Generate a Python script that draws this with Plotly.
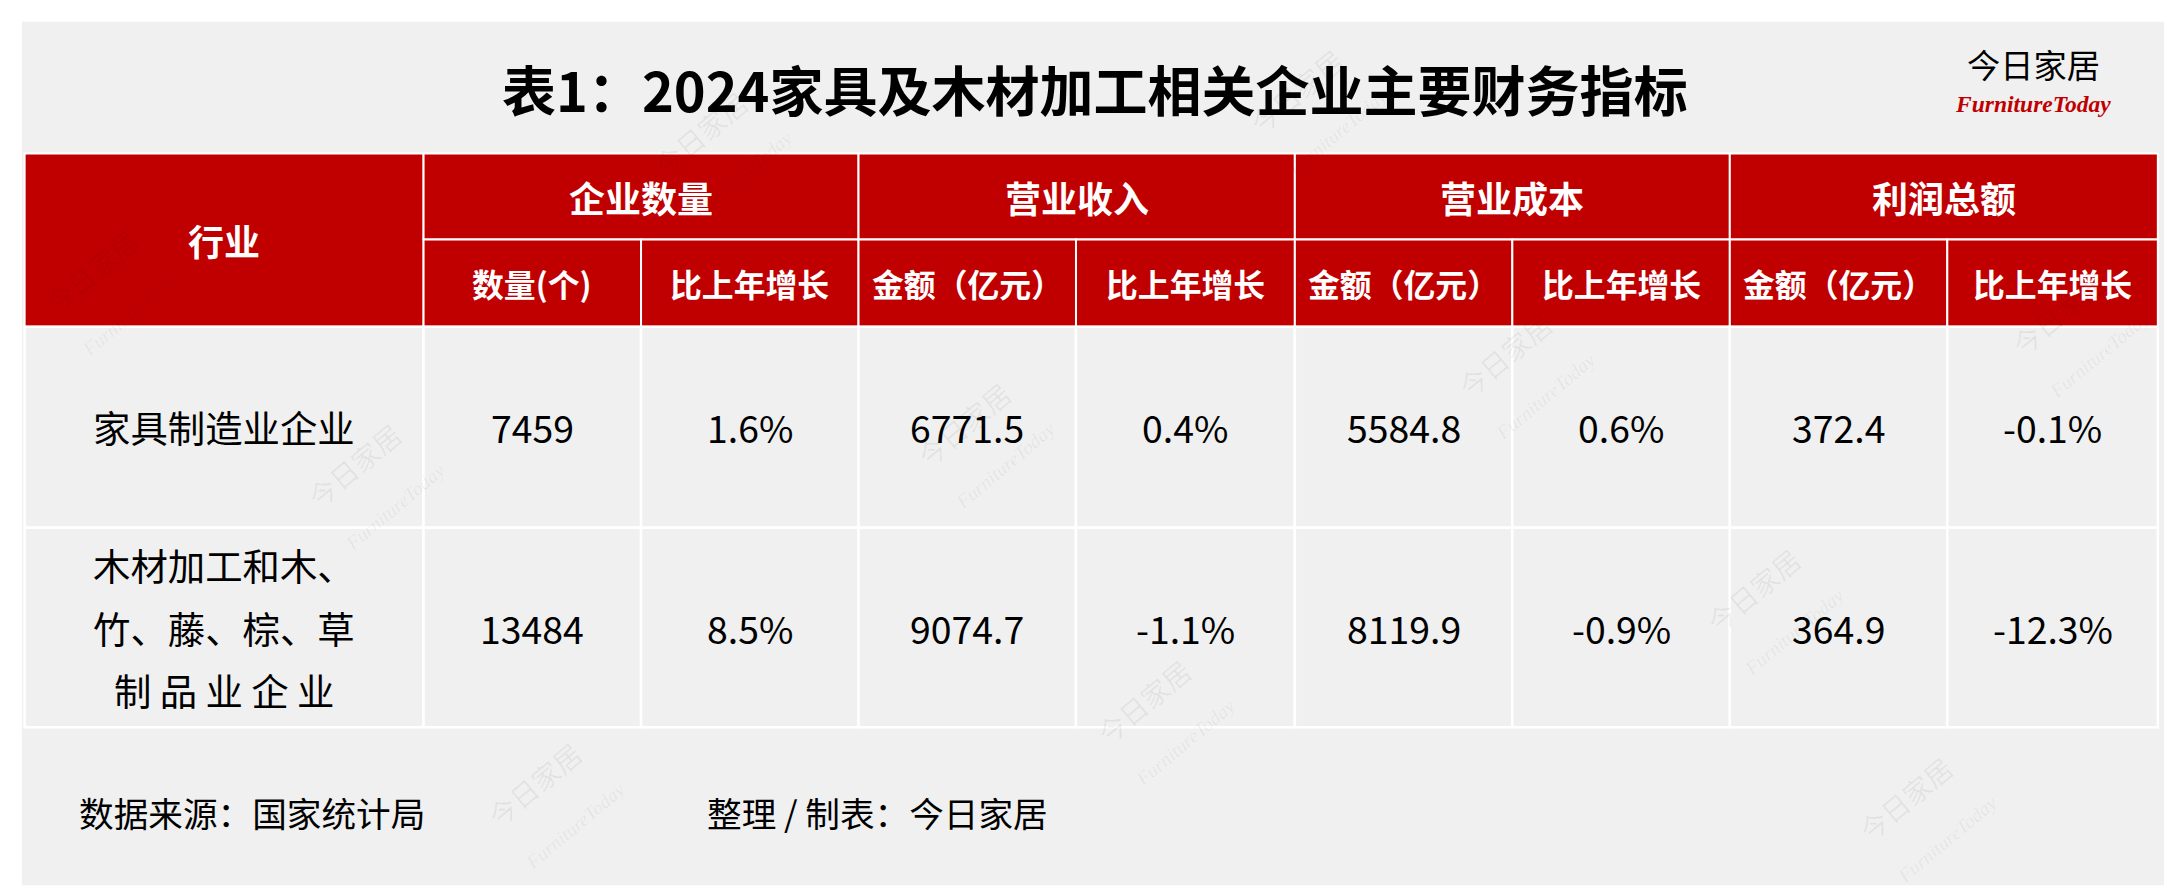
import plotly.graph_objects as go

W, H = 2172, 894
S = W / 1568  # design units -> pixels

title = "表1：2024家具及木材加工相关企业主要财务指标"
groups = ["企业数量", "营业收入", "营业成本", "利润总额"]
subheads = ["数量(个)", "比上年增长", "金额（亿元）", "比上年增长",
            "金额（亿元）", "比上年增长", "金额（亿元）", "比上年增长"]
industries = [["家具制造业企业"], ["木材加工和木、", "竹、藤、棕、草", "制 品 业 企 业"]]
values = [
    ["7459", "1.6%", "6771.5", "0.4%", "5584.8", "0.6%", "372.4", "-0.1%"],
    ["13484", "8.5%", "9074.7", "-1.1%", "8119.9", "-0.9%", "364.9", "-12.3%"],
]
source = "数据来源：国家统计局"
maker = "整理 / 制表：今日家居"

cols = [12, 300, 457, 614, 771, 929, 1086, 1243, 1400, 1552]
hdr = [105, 167, 230]
body = [230, 375, 519]

RED = "#c00000"
GRAY = "#f0f0f0"
FONT = "Noto Sans CJK SC"

fig = go.Figure()
shapes, ann = [], []

def rect(x0, y0, x1, y1, fill, lw=0, lc="white"):
    shapes.append(dict(type="rect", xref="x", yref="y", x0=x0, y0=y0, x1=x1, y1=y1,
                       fillcolor=fill, line=dict(width=lw, color=lc), layer="below"))

def text(x, y, t, size, color="black", bold=False, xanchor="center", angle=0, font=FONT):
    ann.append(dict(x=x, y=y, xref="x", yref="y", text=f"<b>{t}</b>" if bold else t,
                    showarrow=False, xanchor=xanchor, yanchor="middle", textangle=angle,
                    font=dict(size=size * S, color=color, family=font)))

rect(10, 10, 1558, 633, GRAY)

# header
rect(cols[0], hdr[0], cols[1], hdr[2], RED, 2)
text((cols[0] + cols[1]) / 2, (hdr[0] + hdr[2]) / 2, "行业", 26, "white", True)
for g, name in enumerate(groups):
    x0, x1 = cols[1 + 2 * g], cols[3 + 2 * g]
    rect(x0, hdr[0], x1, hdr[1], RED, 2)
    text((x0 + x1) / 2, (hdr[0] + hdr[1]) / 2, name, 26, "white", True)
for i, sh in enumerate(subheads):
    x0, x1 = cols[1 + i], cols[2 + i]
    rect(x0, hdr[1], x1, hdr[2], RED, 2)
    text((x0 + x1) / 2, (hdr[1] + hdr[2]) / 2, sh, 23, "white", True)

# body
for r in range(2):
    y0, y1 = body[r], body[r + 1]
    for c in range(9):
        rect(cols[c], y0, cols[c + 1], y1, GRAY, 2.5)
    lines = industries[r]
    yc = (y0 + y1) / 2
    for k, ln in enumerate(lines):
        text((cols[0] + cols[1]) / 2, yc + (k - (len(lines) - 1) / 2) * 45, ln, 27)
    for c, v in enumerate(values[r]):
        text((cols[c + 1] + cols[c + 2]) / 2, yc, v, 27)

# title / logo / footer
text(785, 58, title, 39, bold=True)
text(1462, 40, "今日家居", 24)
text(1462, 69, "<i>FurnitureToday</i>", 17, RED, True, font="Liberation Serif")
text(50, 580, source, 25, xanchor="left")
text(503, 580, maker, 25, xanchor="left")

# faint watermarks
for (wx, wy) in [(60, 190), (250, 330), (500, 90), (690, 300), (930, 60), (1080, 250),
                 (1260, 420), (820, 500), (380, 560), (1370, 570), (1480, 220)]:
    text(wx, wy, "今日家居", 20, "rgba(0,0,0,0.06)", angle=-40)
    text(wx + 30, wy + 30, "<i>FurnitureToday</i>", 14, "rgba(0,0,0,0.06)", angle=-40,
         font="Liberation Serif")

fig.update_layout(
    width=W, height=H, margin=dict(l=0, r=0, t=0, b=0),
    paper_bgcolor="white", plot_bgcolor="white",
    xaxis=dict(range=[0, 1568], visible=False, fixedrange=True),
    yaxis=dict(range=[645, 0], visible=False, fixedrange=True),
    shapes=shapes, annotations=ann, showlegend=False,
)
fig.write_html("out.html")
